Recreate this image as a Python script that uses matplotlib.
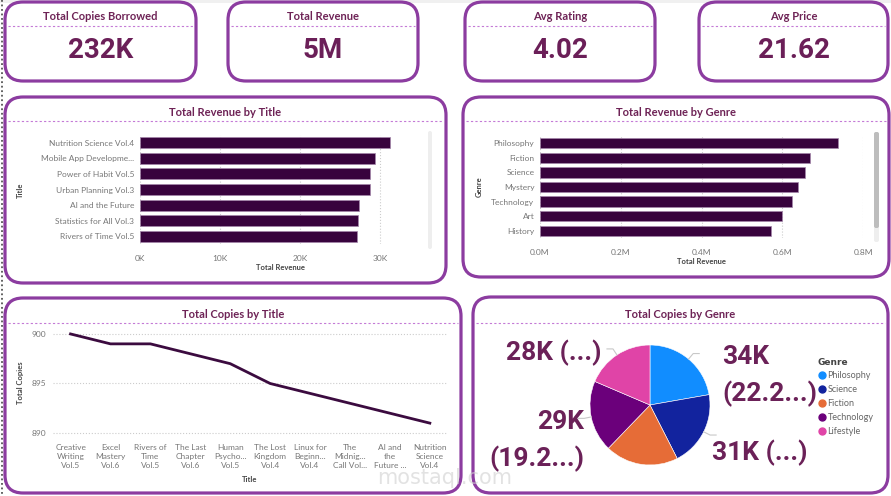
import matplotlib.pyplot as plt
from matplotlib.patches import FancyBboxPatch, Rectangle
from matplotlib.lines import Line2D
import numpy as np

# KPI cards
card_titles = ["Total Copies Borrowed", "Total Revenue", "Avg Rating", "Avg Price"]
card_values = ["232K", "5M", "4.02", "21.62"]

# Total Revenue by Title
rev_titles = ["Nutrition Science Vol.4", "Mobile App Developme...", "Power of Habit Vol.5",
              "Urban Planning Vol.3", "AI and the Future", "Statistics for All Vol.3",
              "Rivers of Time Vol.5"]
rev_title_vals = [31200, 29400, 28800, 28700, 27400, 27200, 27100]

# Total Revenue by Genre
rev_genres = ["Philosophy", "Fiction", "Science", "Mystery", "Technology", "Art", "History"]
rev_genre_vals = [737000, 668000, 657000, 638000, 625000, 600000, 571000]

# Total Copies by Title
copy_titles = ["Creative\nWriting\nVol.5", "Excel\nMastery\nVol.6", "Rivers of\nTime\nVol.5",
               "The Last\nChapter\nVol.6", "Human\nPsycho...\nVol.5", "The Lost\nKingdom\nVol.4",
               "Linux for\nBeginn...\nVol.4", "The\nMidnig...\nCall Vol...",
               "AI and\nthe\nFuture ...", "Nutrition\nScience\nVol.4"]
copy_vals = [900, 899, 899, 898, 897, 895, 894, 893, 892, 891]

# Total Copies by Genre
pie_genres = ["Philosophy", "Science", "Fiction", "Technology", "Lifestyle"]
pie_vals = [34000, 31000, 30100, 29400, 28400]
pie_colors = ["#118DFF", "#12239E", "#E66C37", "#6B007B", "#E044A7"]

W, H = 891, 496
BORDER = "#8C3CA0"
TITLE_C = "#6E2356"
BAR_C = "#38033D"
TICK_C = "#777777"

fig = plt.figure(figsize=(W / 100, H / 100), dpi=100)
fig.patch.set_facecolor("white")

bg = fig.add_axes([0, 0, 1, 1], zorder=0)
bg.set_xlim(0, W)
bg.set_ylim(H, 0)
bg.axis("off")


def px_axes(x0, y0, x1, y1):
    a = fig.add_axes([x0 / W, 1 - y1 / H, (x1 - x0) / W, (y1 - y0) / H], zorder=2)
    a.patch.set_alpha(0)
    return a


def box(x0, y0, x1, y1, title, rad=18, title_y=None):
    bg.add_patch(FancyBboxPatch((x0, y0), x1 - x0, y1 - y0,
                                boxstyle="round,pad=0,rounding_size=%d" % rad,
                                fc="white", ec=BORDER, lw=2.3))
    ty = y0 + 15 if title_y is None else title_y
    bg.text((x0 + x1) / 2, ty, title, ha="center", va="center", fontsize=8,
            fontweight="bold", color=TITLE_C, family="Lato")
    bg.plot([x0 + 3, x1 - 3], [ty + 9, ty + 9], color="#C47AD6", lw=0.8,
            ls=(0, (2, 2)))


# top strip and left dotted edge
bg.add_patch(Rectangle((0, 0), W, 3, color="#F0F0F0", lw=0))
bg.plot([2, 2], [0, H], color="#555555", lw=1.3, ls=(0, (1, 1.5)))

cards = [(5, 2, 196, 81), (228, 2, 418, 81), (465, 2, 655, 81), (699, 2, 888, 81)]
for (x0, y0, x1, y1), t, v in zip(cards, card_titles, card_values):
    box(x0, y0, x1, y1, t, title_y=17)
    bg.text((x0 + x1) / 2, 51, v, ha="center", va="center", fontsize=20,
            fontweight="bold", color="#6B1F58", family="Roboto")

# ---- Total Revenue by Title
box(5, 97, 446, 283, "Total Revenue by Title", title_y=112)
ax1 = px_axes(140, 135, 420, 244)
y = np.arange(len(rev_titles))
ax1.barh(y, rev_title_vals, height=0.7, color=BAR_C, edgecolor="#A486AA", lw=0.5)
ax1.set_ylim(len(rev_titles) - 0.5, -0.5)
ax1.set_xlim(0, 35000)
ax1.set_xticks([0, 10000, 20000, 30000])
ax1.set_xticklabels(["0K", "10K", "20K", "30K"])
ax1.set_yticks(y)
ax1.set_yticklabels(rev_titles)
ax1.grid(axis="x", ls=":", color="#CCCCCC", lw=0.8)
ax1.set_axisbelow(True)
for s in ax1.spines.values():
    s.set_visible(False)
ax1.tick_params(length=0, labelsize=6, labelcolor=TICK_C, pad=4)
ax1.tick_params(axis="x", pad=8)
for lab in ax1.get_xticklabels() + ax1.get_yticklabels():
    lab.set_family("Lato")
bg.text(280, 268, "Total Revenue", ha="center", va="center", fontsize=5.5,
        fontweight="bold", color="#444444", family="Lato")
bg.text(20, 190, "Title", ha="center", va="center", rotation=90, fontsize=5.5,
        fontweight="bold", color="#444444", family="Lato")
bg.add_patch(FancyBboxPatch((428, 131), 4, 118, boxstyle="round,pad=0,rounding_size=2",
                            fc="#EEEEEE", ec="none"))

# ---- Total Revenue by Genre
box(463, 97, 889, 277, "Total Revenue by Genre", title_y=112)
ax2 = px_axes(540, 136, 863, 238)
y = np.arange(len(rev_genres))
ax2.barh(y, rev_genre_vals, height=0.7, color=BAR_C, edgecolor="#A486AA", lw=0.5)
ax2.set_ylim(len(rev_genres) - 0.5, -0.5)
ax2.set_xlim(0, 800000)
ax2.set_xticks([0, 200000, 400000, 600000, 800000])
ax2.set_xticklabels(["0.0M", "0.2M", "0.4M", "0.6M", "0.8M"])
ax2.set_yticks(y)
ax2.set_yticklabels(rev_genres)
ax2.grid(axis="x", ls=":", color="#CCCCCC", lw=0.8)
ax2.set_axisbelow(True)
for s in ax2.spines.values():
    s.set_visible(False)
ax2.tick_params(length=0, labelsize=6, labelcolor=TICK_C, pad=4)
ax2.tick_params(axis="x", pad=8)
for lab in ax2.get_xticklabels() + ax2.get_yticklabels():
    lab.set_family("Lato")
bg.text(701, 262, "Total Revenue", ha="center", va="center", fontsize=5.5,
        fontweight="bold", color="#444444", family="Lato")
bg.text(479, 187, "Genre", ha="center", va="center", rotation=90, fontsize=5.5,
        fontweight="bold", color="#444444", family="Lato")
bg.add_patch(FancyBboxPatch((874, 132), 5, 110, boxstyle="round,pad=0,rounding_size=2",
                            fc="#EEEEEE", ec="none"))
bg.add_patch(FancyBboxPatch((874, 132), 5, 96, boxstyle="round,pad=0,rounding_size=2",
                            fc="#BDBDBD", ec="none"))

# ---- Total Copies by Title
box(5, 298, 461, 493, "Total Copies by Title", title_y=314)
ax3 = px_axes(53, 329, 447, 437)
x = np.arange(len(copy_titles))
ax3.plot(x, copy_vals, color="#3B0B3F", lw=2)
ax3.set_xlim(-0.44, 9.43)
ax3.set_ylim(889.6, 900.5)
ax3.set_yticks([890, 895, 900])
ax3.set_xticks(x)
ax3.set_xticklabels(copy_titles, linespacing=1.35)
ax3.grid(axis="y", ls=":", color="#CCCCCC", lw=0.8)
for s in ax3.spines.values():
    s.set_visible(False)
ax3.tick_params(length=0, labelsize=6, labelcolor=TICK_C, pad=5)
for lab in ax3.get_xticklabels() + ax3.get_yticklabels():
    lab.set_family("Lato")
bg.text(250, 479, "Title", ha="center", va="center", fontsize=5.5,
        fontweight="bold", color="#444444", family="Lato")
bg.text(20, 383, "Total Copies", ha="center", va="center", rotation=90, fontsize=5.5,
        fontweight="bold", color="#444444", family="Lato")

# ---- Total Copies by Genre
box(473, 297, 888, 493, "Total Copies by Genre", title_y=314)
ax4 = px_axes(575, 330, 725, 480)
wedges, _ = ax4.pie(pie_vals, colors=pie_colors, startangle=90, counterclock=False,
                    radius=1, wedgeprops=dict(edgecolor="white", lw=0.4))
ax4.set_xlim(-1.25, 1.25)
ax4.set_ylim(-1.25, 1.25)

total = sum(pie_vals)
LAB_C = "#6B2158"
# label text for the wedges Power BI showed (Fiction is hidden)
labels = {
    0: ("%dK\n(%.1f...)" % (round(pie_vals[0] / 1000), 100 * pie_vals[0] / total), 722, 376, "left"),
    1: ("%dK (...)" % round(pie_vals[1] / 1000), 712, 453, "left"),
    3: ("%dK\n(%.1f...)" % (round(pie_vals[3] / 1000), 100 * pie_vals[3] / total), 584, 441, "right"),
    4: ("%dK (...)" % round(pie_vals[4] / 1000), 601, 353, "right"),
}
for i, (txt, tx, ty, ha) in labels.items():
    w = wedges[i]
    mid = np.deg2rad((w.theta1 + w.theta2) / 2)
    p0 = (np.cos(mid) * 1.0, np.sin(mid) * 1.0)
    p1 = (np.cos(mid) * 1.12, np.sin(mid) * 1.12)
    p2 = (p1[0] + (0.1 if ha == "left" else -0.1), p1[1])
    ax4.plot([p0[0], p1[0], p2[0]], [p0[1], p1[1], p2[1]], color="#C8C8C8", lw=0.8,
             clip_on=False)
    bg.text(tx, ty, txt, ha=ha, va="center", fontsize=19, fontweight="bold",
            color=LAB_C, family="Roboto", linespacing=1.6, multialignment=ha)

handles = [Line2D([], [], marker="o", ls="none", color=c, markersize=5) for c in pie_colors]
leg = ax4.legend(handles, pie_genres, title="Genre", loc="upper left",
                 bbox_to_anchor=(813 / W, 1 - 353 / H), bbox_transform=fig.transFigure,
                 frameon=False, fontsize=6.5, title_fontsize=6.5, handletextpad=0.1,
                 labelspacing=0.55, borderpad=0, handlelength=1.0, alignment="left")
leg.get_title().set_fontweight("bold")
leg.get_title().set_color("#444444")
for t in leg.get_texts():
    t.set_color("#666666")
    t.set_family("Lato")

# watermark
bg.text(445, 478, "mostaql.com", ha="center", va="center", fontsize=15, color="#D0D0D0",
        alpha=0.6, family="DejaVu Sans", zorder=5)

fig.savefig("out.png", dpi=100)
